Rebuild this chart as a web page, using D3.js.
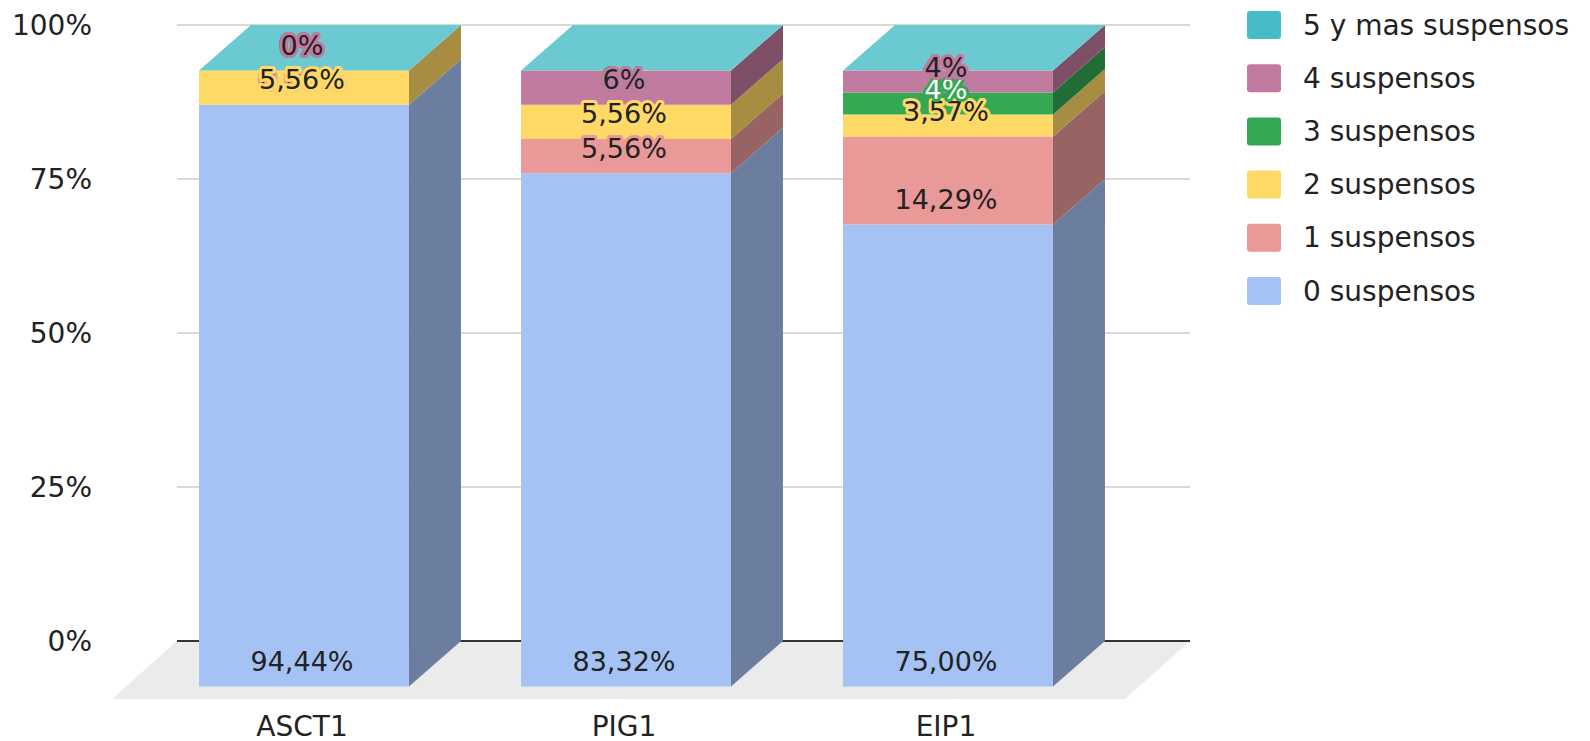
<!DOCTYPE html>
<html>
<head>
<meta charset="utf-8">
<script src="https://cdn.jsdelivr.net/npm/d3@7"></script>
<style>
  html, body { margin: 0; padding: 0; background: #ffffff; }
  svg { display: block; }
</style>
</head>
<body>
<svg id="chart" width="1590" height="741"></svg>
<script>
// ---------- data ----------
const categories = ["ASCT1", "PIG1", "EIP1"];
const seriesNames = ["0 suspensos", "1 suspensos", "2 suspensos", "3 suspensos", "4 suspensos", "5 y mas suspensos"];
const susp0 = [94.44, 83.32, 75.00];
const susp1 = [0, 5.56, 14.29];
const susp2 = [5.56, 5.56, 3.57];
const susp3 = [0, 0, 3.57];
const susp4 = [0, 5.56, 3.57];
const susp5 = [0, 0, 0];
const labelDecimals = [2, 2, 2, 0, 0, 0];
const yTicks = [0, 25, 50, 75, 100];
const seriesColors = ["#a4c2f4", "#ea9999", "#ffd966", "#34a853", "#c27ba0", "#46bdc6"];
const labelTextColors = ["#222", "#222", "#222", "#fff", "#222", "#222"];

const seriesValues = [susp0, susp1, susp2, susp3, susp4, susp5];
const rows = categories.map((c, i) => {
  const r = { cat: c };
  seriesNames.forEach((s, k) => r[s] = seriesValues[k][i]);
  return r;
});
const stacked = d3.stack().keys(seriesNames)(rows);

// ---------- layout ----------
const svg = d3.select("#chart");
const backLeft = 177, backRight = 1190;
const depthX = 52, depthY = 45.5;      // bar depth (projection offset)
const floorDX = 65, floorDY = 58;      // floor depth
const y = d3.scaleLinear().domain([0, 100]).range([641, 25]);   // back wall
const yF = v => y(v) + depthY;                                 // front faces
const x = d3.scaleBand().domain(categories).range([143, 1109])
  .paddingInner(0.348).paddingOuter(0.174);                    // front faces

const darker = c => { const r = d3.rgb(c); return d3.rgb(r.r * 0.65, r.g * 0.65, r.b * 0.65).toString(); };
const lighter = c => d3.interpolateRgb(c, "#ffffff")(0.2);

// floor
svg.append("path")
  .attr("d", `M${backLeft},${y(0)} L${backRight},${y(0)} L${backRight - floorDX},${y(0) + floorDY} L${backLeft - floorDX},${y(0) + floorDY} Z`)
  .attr("fill", "#ebebeb");

// gridlines
svg.append("g").selectAll("line").data(yTicks.filter(t => t > 0)).join("line")
  .attr("x1", backLeft).attr("x2", backRight)
  .attr("y1", d => y(d)).attr("y2", d => y(d))
  .attr("stroke", "#cccccc").attr("stroke-width", 1.5);

// baseline
svg.append("line")
  .attr("x1", backLeft).attr("x2", backRight)
  .attr("y1", y(0)).attr("y2", y(0))
  .attr("stroke", "#333").attr("stroke-width", 2);

// y tick labels
svg.append("g").selectAll("text").data(yTicks).join("text")
  .attr("x", 92).attr("y", d => y(d))
  .attr("text-anchor", "end").attr("dominant-baseline", "central")
  .attr("font-family", "DejaVu Sans").attr("font-size", 28).attr("fill", "#222")
  .text(d => d + "%");

// bars
const bw = x.bandwidth();
const barsG = svg.append("g");
categories.forEach((cat, i) => {
  const g = barsG.append("g");
  const x0 = x(cat), x1 = x0 + bw;
  stacked.forEach((layer, k) => {
    const d = layer[i];
    const yt = yF(d[1]), yb = yF(d[0]);
    // front
    g.append("rect").attr("x", x0).attr("y", yt).attr("width", bw).attr("height", Math.max(0, yb - yt))
      .attr("fill", seriesColors[k]);
    // side
    g.append("path")
      .attr("d", `M${x1},${yt} L${x1 + depthX},${yt - depthY} L${x1 + depthX},${yb - depthY} L${x1},${yb} Z`)
      .attr("fill", darker(seriesColors[k]));
  });
  // top face (color of top series)
  const topK = stacked.length - 1;
  const yt = yF(stacked[topK][i][1]);
  g.append("path")
    .attr("d", `M${x0},${yt} L${x0 + depthX},${yt - depthY} L${x1 + depthX},${yt - depthY} L${x1},${yt} Z`)
    .attr("fill", lighter(seriesColors[topK]));
});

// value labels (inside base of each segment)
const fmt = (v, dec) => v.toFixed(dec).replace(".", ",") + "%";
const labG = svg.append("g");
stacked.forEach((layer, k) => {
  const total = d3.sum(seriesValues[k]);
  if (total === 0) return;
  layer.forEach((d, i) => {
    labG.append("text")
      .attr("x", x(categories[i]) + bw / 2 - 2)
      .attr("y", yF(d[0]) - 25)
      .attr("text-anchor", "middle").attr("dominant-baseline", "central")
      .attr("font-family", "DejaVu Sans").attr("font-size", 27)
      .attr("fill", labelTextColors[k])
      .attr("stroke", seriesColors[k]).attr("stroke-width", 6)
      .attr("stroke-linejoin", "round").attr("paint-order", "stroke")
      .text(fmt(seriesValues[k][i], labelDecimals[k]));
  });
});

// x labels
svg.append("g").selectAll("text").data(categories).join("text")
  .attr("x", d => x(d) + bw / 2 - 2).attr("y", 726)
  .attr("text-anchor", "middle").attr("dominant-baseline", "central")
  .attr("font-family", "DejaVu Sans").attr("font-size", 28).attr("fill", "#222")
  .text(d => d);

// legend
const legendOrder = seriesNames.map((s, k) => k).reverse();
const lg = svg.append("g");
legendOrder.forEach((k, j) => {
  const cy = 25 + j * 53.2;
  lg.append("rect").attr("x", 1247).attr("y", cy - 14).attr("width", 34).attr("height", 28)
    .attr("rx", 3).attr("fill", seriesColors[k]);
  lg.append("text").attr("x", 1303).attr("y", cy)
    .attr("dominant-baseline", "central")
    .attr("font-family", "DejaVu Sans").attr("font-size", 28).attr("fill", "#222")
    .text(seriesNames[k]);
});
</script>
</body>
</html>
